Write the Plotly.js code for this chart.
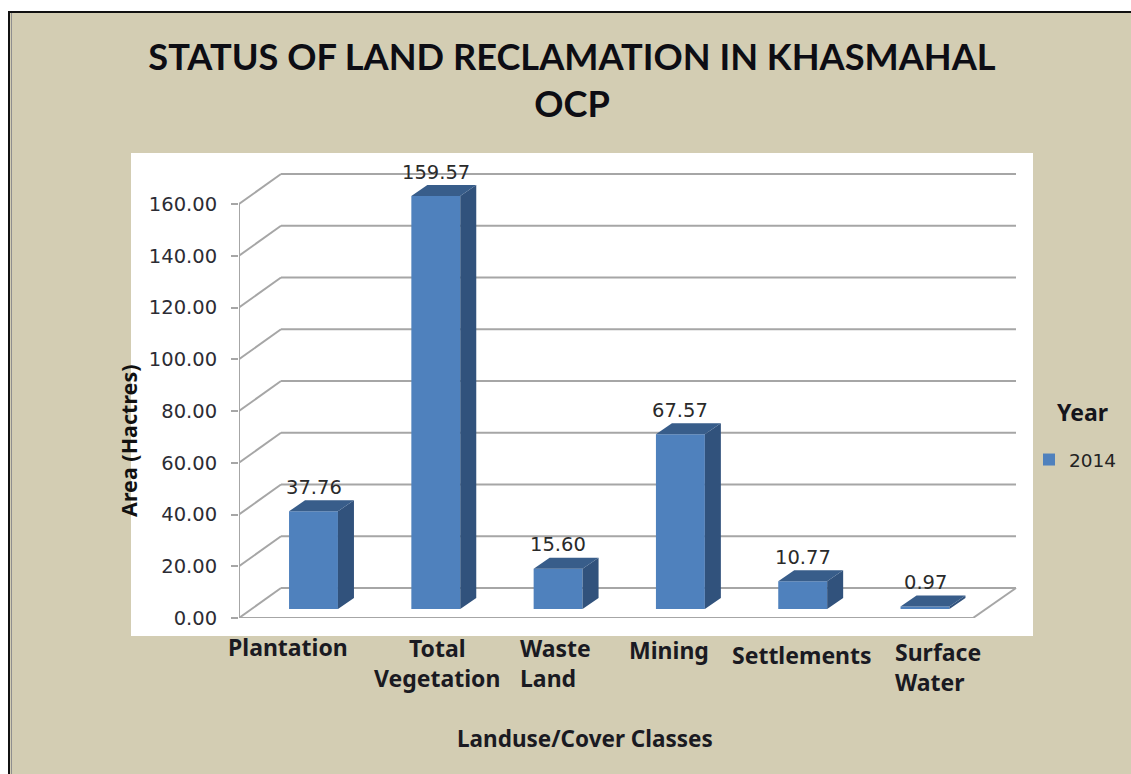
<!DOCTYPE html>
<html>
<head>
<meta charset="utf-8">
<script src="https://cdn.plot.ly/plotly-3.0.1.min.js"></script>
<style>html,body{margin:0;padding:0;background:#fff}#c{width:1131px;height:774px}</style>
</head>
<body>
<div id="c"></div>
<script>
const titleText = "STATUS OF LAND RECLAMATION IN KHASMAHAL<br>OCP";
const categories = ["Plantation", "Total<br>Vegetation", "Waste<br>Land", "Mining", "Settlements", "Surface<br>Water"];
const values = [37.76, 159.57, 15.60, 67.57, 10.77, 0.97];
const valueLabels = ["37.76", "159.57", "15.60", "67.57", "10.77", "0.97"];
const yTicks = [0, 20, 40, 60, 80, 100, 120, 140, 160];
const seriesName = "2014";
const legendTitle = "Year";
const yTitle = "Area (Hactres)";
const xTitle = "Landuse/Cover Classes";

// Layout geometry (pixels on the 1131x774 page)
const W = 1131, H = 774;
const L = 239, R = 1020, T = 160, B = 618;
const unitX = 122.3, unitY = 2.5875, firstBarPx = 313.5;
const xOf = px => (px - firstBarPx) / unitX;
const yOf = py => (B - py) / unitY;
const fx = px => (px - L) / (R - L);
const fy = py => (B - py) / (B - T);

const idx = categories.map((_, i) => i);
const barW = 0.4;
const barBase = 9 / unitY;
const depthX = 16 / unitX, depthY = 11 / unitY;
const wallX = 42 / unitX, wallY = 30 / unitY;
const xMin = xOf(L), xBackR = xOf(1016), xFrontR = xOf(973);

// Bar side and top faces derived from the values
const sideX = [], sideY = [], topX = [], topY = [];
idx.forEach(i => {
  const xr = i + barW / 2, xl = i - barW / 2;
  const b = barBase, t = barBase + values[i];
  sideX.push(xr, xr + depthX, xr + depthX, xr, xr, null);
  sideY.push(b, b + depthY, t + depthY, t, b, null);
  topX.push(xl, xl + depthX, xr + depthX, xr, xl, null);
  topY.push(t, t + depthY, t + depthY, t, t, null);
});

const gridColor = "#A6A6A6";
const gridLine = {color: gridColor, width: 2};
const shapes = [
  {type: "rect", xref: "paper", yref: "paper", layer: "below",
   x0: fx(9), x1: fx(W + 5), y0: fy(12), y1: fy(H + 5),
   fillcolor: "#D3CDB3", line: {color: "#111111", width: 2}},
  {type: "line", xref: "paper", yref: "paper", layer: "below",
   x0: fx(11.5), x1: fx(11.5), y0: fy(13), y1: fy(H),
   line: {color: "#8f8f8f", width: 1}},
  {type: "rect", xref: "paper", yref: "paper", layer: "below",
   x0: fx(131), x1: fx(1033), y0: fy(153), y1: fy(636),
   fillcolor: "#FFFFFF", line: {width: 0}},
  {type: "line", xref: "x", yref: "y", layer: "below",
   x0: xMin, x1: xMin, y0: 0, y1: 160, line: gridLine},
  {type: "line", xref: "x", yref: "y", layer: "below",
   x0: xMin, x1: xFrontR, y0: 0, y1: 0, line: gridLine},
  {type: "line", xref: "x", yref: "y", layer: "below",
   x0: xFrontR, x1: xBackR, y0: 0, y1: wallY, line: gridLine}
];
yTicks.forEach(v => {
  shapes.push({type: "line", xref: "x", yref: "y", layer: "below",
    x0: xMin, x1: xMin + wallX, y0: v, y1: v + wallY, line: gridLine});
  shapes.push({type: "line", xref: "x", yref: "y", layer: "below",
    x0: xMin + wallX, x1: xBackR, y0: v + wallY, y1: v + wallY, line: gridLine});
});

const catFont = {family: "Noto Sans", size: 23, color: "#1a1a22"};
const catPlace = [
  {px: 288, py: 647, a: "center"},
  {px: 437, py: 663, a: "center"},
  {px: 555, py: 663, a: "left"},
  {px: 669, py: 650, a: "center"},
  {px: 802, py: 655, a: "center"},
  {px: 938, py: 667, a: "left"}
];
const annotations = [];
categories.forEach((c, i) => annotations.push({
  xref: "paper", yref: "paper", x: fx(catPlace[i].px), y: fy(catPlace[i].py),
  xanchor: "center", yanchor: "middle", align: catPlace[i].a, showarrow: false,
  text: "<b>" + c + "</b>", font: catFont
}));
idx.forEach(i => annotations.push({
  xref: "x", yref: "y", x: i, y: barBase + values[i], yshift: 24,
  xanchor: "center", yanchor: "middle", showarrow: false,
  text: valueLabels[i], font: {family: "DejaVu Sans", size: 19.5, color: "#2a2a2a"}
}));
annotations.push({
  xref: "paper", yref: "paper", x: fx(128), y: fy(441), textangle: -90,
  xanchor: "center", yanchor: "middle", showarrow: false,
  text: "<b>" + yTitle + "</b>", font: {family: "Noto Sans", size: 21.5, color: "#111"}
});
annotations.push({
  xref: "paper", yref: "paper", x: fx(585), y: fy(738),
  xanchor: "center", yanchor: "middle", showarrow: false,
  text: "<b>" + xTitle + "</b>", font: {family: "Noto Sans", size: 22.5, color: "#1a1a22"}
});
annotations.push({
  xref: "paper", yref: "paper", x: fx(1082), y: fy(412),
  xanchor: "center", yanchor: "middle", showarrow: false,
  text: "<b>" + legendTitle + "</b>", font: {family: "Noto Sans", size: 23, color: "#15151c"}
});

const traces = [
  {type: "bar", name: seriesName, x: idx, y: values, base: barBase, width: barW,
   marker: {color: "#4F81BD", line: {width: 0}}, hoverinfo: "skip", showlegend: true},
  {type: "scatter", mode: "lines", x: sideX, y: sideY, fill: "toself",
   fillcolor: "#31527C", line: {width: 0, color: "#31527C"}, hoverinfo: "skip", showlegend: false},
  {type: "scatter", mode: "lines", x: topX, y: topY, fill: "toself",
   fillcolor: "#385D8A", line: {width: 0, color: "#385D8A"}, hoverinfo: "skip", showlegend: false}
];

const layout = {
  width: W, height: H,
  margin: {l: L, r: W - R, t: T, b: H - B, pad: 0, autoexpand: false},
  paper_bgcolor: "#FFFFFF",
  plot_bgcolor: "rgba(0,0,0,0)",
  title: {
    text: "<b>" + titleText + "</b>",
    font: {family: "Lato", size: 36.2, color: "#0d0d14"},
    x: 572 / W, xanchor: "center", xref: "container",
    y: 1 - 70 / H, yanchor: "top"
  },
  showlegend: true,
  legend: {
    x: fx(1029), y: fy(441), xanchor: "left", yanchor: "top",
    bgcolor: "rgba(0,0,0,0)", borderwidth: 0,
    font: {family: "DejaVu Sans", size: 18.5, color: "#222"}
  },
  xaxis: {type: "linear", range: [xMin, xOf(R)], showgrid: false, zeroline: false,
          showline: false, showticklabels: false, ticks: "", fixedrange: true},
  yaxis: {range: [0, yOf(T)], tickvals: yTicks, tickformat: ".2f",
          showgrid: false, zeroline: false, showline: false,
          ticks: "outside", ticklen: 7, tickwidth: 2, tickcolor: gridColor,
          ticklabelstandoff: 10,
          tickfont: {family: "DejaVu Sans", size: 19.5, color: "#2c2c34"}, fixedrange: true},
  shapes: shapes,
  annotations: annotations,
  bargap: 0.6
};
Plotly.newPlot("c", traces, layout, {displayModeBar: false, responsive: false, staticPlot: true});
</script>
</body>
</html>
